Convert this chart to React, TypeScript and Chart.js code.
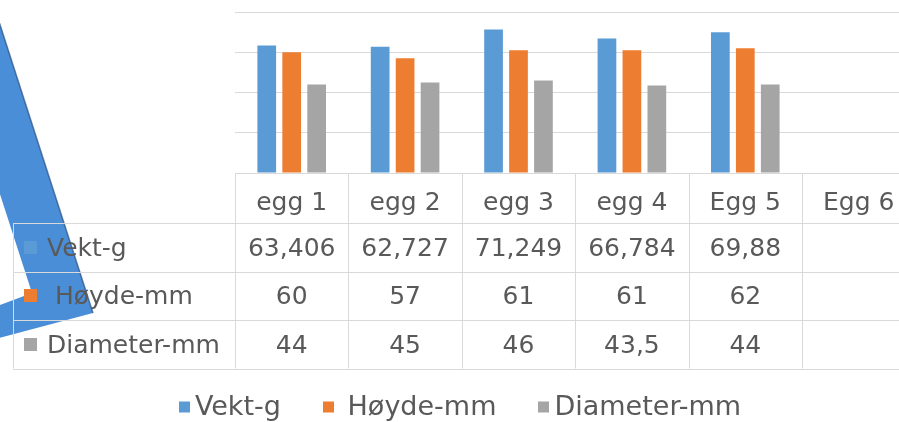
import React, { useEffect, useRef } from "react";
import { Chart, registerables } from "chart.js";

Chart.register(...registerables);

// ---- data ----
const categories = ["egg 1", "egg 2", "egg 3", "egg 4", "Egg 5", "Egg 6"];
const vektG: (number | null)[] = [63.406, 62.727, 71.249, 66.784, 69.88, null];
const hoydeMm: (number | null)[] = [60, 57, 61, 61, 62, null];
const diameterMm: (number | null)[] = [44, 45, 46, 43.5, 44, null];
const seriesNames = ["Vekt-g", " Høyde-mm", "Diameter-mm"];
const seriesColors = ["#5B9BD5", "#ED7D31", "#A5A5A5"];
const yMin = 0;
const yMax = 80;
const yStep = 20;

const FONT = '"DejaVu Sans", sans-serif';
const TEXT = "#595959";
const LINE = "#d9d9d9";
const CANVAS_W = 930;
const CANVAS_H = 422;

const fmt = (v: number | null) => (v == null ? "" : String(v).replace(".", ","));

// decorative arrow shape overlapping the chart (behind the table)
const arrowPlugin = {
  id: "arrowShape",
  beforeDraw(chart: any) {
    const ctx = chart.ctx as CanvasRenderingContext2D;
    ctx.save();
    ctx.beginPath();
    ctx.moveTo(-8, 0);
    ctx.lineTo(93, 313);
    ctx.lineTo(-5, 339);
    ctx.lineTo(-5, 307);
    ctx.lineTo(32, 293);
    ctx.lineTo(-63, 0);
    ctx.closePath();
    ctx.fillStyle = "#4a8ed8";
    ctx.fill();
    ctx.beginPath();
    ctx.moveTo(-8, 0);
    ctx.lineTo(93, 313);
    ctx.strokeStyle = "rgba(40,80,130,0.7)";
    ctx.lineWidth = 1.5;
    ctx.stroke();
    ctx.restore();
  },
};

// data table + legend drawn below the plot
const tablePlugin = {
  id: "dataTable",
  afterDraw(chart: any) {
    const ctx = chart.ctx as CanvasRenderingContext2D;
    const xs = chart.scales.x;
    const area = chart.chartArea;
    const labels: string[] = chart.data.labels;
    const ds = chart.data.datasets;
    const n = labels.length;
    const colW = (xs.right - xs.left) / n;
    const top = area.bottom;
    const catBottom = top + 50;
    const rowH = 48.5;
    const tableBottom = catBottom + rowH * ds.length;
    const tableLeft = 13;

    ctx.save();
    ctx.strokeStyle = LINE;
    ctx.lineWidth = 1;
    const line = (x1: number, y1: number, x2: number, y2: number) => {
      ctx.beginPath();
      ctx.moveTo(x1, y1);
      ctx.lineTo(x2, y2);
      ctx.stroke();
    };
    for (let r = 0; r <= ds.length; r++) {
      const y = Math.round(catBottom + r * rowH) + 0.5;
      line(tableLeft, y, xs.right, y);
    }
    line(tableLeft + 0.5, catBottom, tableLeft + 0.5, tableBottom);
    for (let i = 0; i <= n; i++) {
      const bx = Math.round(xs.left + i * colW) + 0.5;
      line(bx, top, bx, tableBottom);
    }

    ctx.font = `25px ${FONT}`;
    ctx.fillStyle = TEXT;
    ctx.textBaseline = "alphabetic";
    ctx.textAlign = "center";
    labels.forEach((lab, i) => {
      ctx.fillText(lab, xs.getPixelForValue(i), 210);
    });
    ds.forEach((d: any, r: number) => {
      const cy = catBottom + r * rowH + rowH / 2;
      ctx.textAlign = "center";
      ctx.fillStyle = TEXT;
      d.data.forEach((v: number | null, i: number) => {
        ctx.fillText(fmt(v), xs.getPixelForValue(i), cy + 8.5);
      });
      // row header with key
      ctx.fillStyle = d.backgroundColor;
      ctx.fillRect(24, Math.round(cy - 6.5), 13, 13);
      ctx.fillStyle = TEXT;
      ctx.textAlign = "left";
      ctx.fillText(d.label, 47, cy + 8.5);
    });

    // legend
    ctx.font = `27px ${FONT}`;
    const key = 11;
    const gap = 5;
    const spacing = 42;
    const widths = ds.map((d: any) => key + gap + ctx.measureText(d.label).width);
    const total = widths.reduce((a: number, b: number) => a + b, 0) + spacing * (ds.length - 1);
    let lx = 460 - total / 2;
    const ly = 407;
    ds.forEach((d: any, i: number) => {
      ctx.fillStyle = d.backgroundColor;
      ctx.fillRect(Math.round(lx), ly - key / 2, key, key);
      ctx.fillStyle = TEXT;
      ctx.textAlign = "left";
      ctx.fillText(d.label, lx + key + gap, ly + 8);
      lx += widths[i] + spacing;
    });
    ctx.restore();
  },
};

export default function App() {
  const canvasRef = useRef<HTMLCanvasElement | null>(null);

  useEffect(() => {
    if (!canvasRef.current) return;
    const seriesData = [vektG, hoydeMm, diameterMm];
    const chartW = 113.4 * categories.length;
    const chart = new Chart(canvasRef.current, {
      type: "bar",
      data: {
        labels: categories,
        datasets: seriesNames.map((name, i) => ({
          label: name,
          data: seriesData[i] as any,
          backgroundColor: seriesColors[i],
          borderWidth: 0,
          categoryPercentage: 0.66,
          barPercentage: 0.75,
        })),
      },
      options: {
        responsive: true,
        maintainAspectRatio: false,
        animation: false,
        devicePixelRatio: 1,
        layout: {
          padding: { left: 235, right: CANVAS_W - 235 - chartW, top: 12, bottom: 0 },
        },
        plugins: {
          legend: { display: false },
          tooltip: { enabled: false },
        },
        scales: {
          x: {
            type: "category",
            grid: { display: false },
            border: { display: false },
            ticks: { display: false },
            afterFit: (s: any) => {
              s.height = 249;
            },
          },
          y: {
            min: yMin,
            max: yMax,
            ticks: { stepSize: yStep, display: false },
            grid: { color: LINE, lineWidth: 1, drawTicks: false },
            border: { display: false },
            afterFit: (s: any) => {
              s.width = 0;
            },
          },
        },
      },
      plugins: [arrowPlugin, tablePlugin],
    });
    return () => chart.destroy();
  }, []);

  return (
    <div
      style={{
        position: "fixed",
        left: 0,
        top: 0,
        width: 899,
        height: 422,
        overflow: "hidden",
        background: "#ffffff",
      }}
    >
      <div style={{ position: "relative", width: CANVAS_W, height: CANVAS_H }}>
        <canvas ref={canvasRef} />
      </div>
    </div>
  );
}
